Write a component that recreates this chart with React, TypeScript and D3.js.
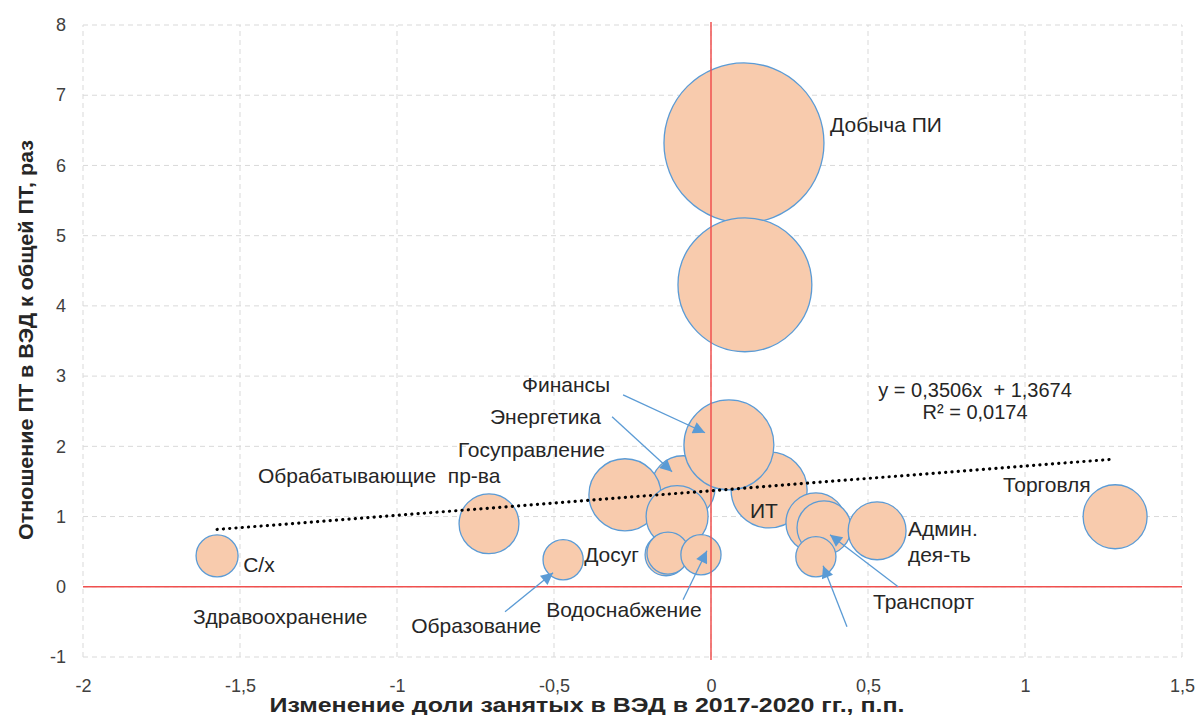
import React, { useRef, useEffect } from "react";
import * as d3 from "d3";

// bubbles, in draw order (x: change of share, p.p.; y: productivity ratio; size: bubble value)
const bubbleNames = [
  "Добыча ПИ", "", "ИТ", "Энергетика", "Госуправление", "", "Финансы",
  "Досуг", "", "Водоснабжение", "Образование", "С/х", "Обрабатывающие пр-ва",
  "", "", "Транспорт", "Админ. дея-ть", "Торговля",
];
const bubbleX = [
  0.105, 0.108, 0.185, -0.089, -0.274, -0.108, 0.057,
  -0.143, -0.137, -0.032, -0.471, -1.573, -0.707,
  0.334, 0.36, 0.334, 0.529, 1.287,
];
const bubbleY = [
  6.32, 4.3, 1.38, 1.41, 1.31, 1.0, 2.02,
  0.456, 0.48, 0.456, 0.385, 0.441, 0.897,
  0.911, 0.84, 0.427, 0.797, 0.997,
];
const bubbleSize = [
  100, 70, 22.6, 16, 20.3, 15, 31.6,
  6.9, 6.9, 6.3, 6.3, 6.9, 14,
  14, 11.4, 6.3, 13.1, 16,
];

// trend line y = 0,3506x + 1,3674
const trendX = [-1.573, 1.287];
const trendY = [0.816, 1.819];
const trendText = ["y = 0,3506x  + 1,3674", "R² = 0,0174"];
const trendTextX = [0.841, 0.841];
const trendTextY = [2.706, 2.392];

// text labels (start anchor, baseline)
const labelTexts = [
  "Добыча ПИ", "Финансы", "Энергетика", "Госуправление", "Обрабатывающие  пр-ва",
  "С/х", "Здравоохранение", "Образование", "Водоснабжение", "Досуг", "ИТ",
  "Торговля", "Админ.", "дея-ть", "Транспорт",
];
const labelX = [
  0.379, -0.602, -0.704, -0.806, -1.443,
  -1.49, -1.65, -0.955, -0.525, -0.404, 0.124,
  0.93, 0.627, 0.627, 0.516,
];
const labelY = [
  6.48, 2.777, 2.321, 1.851, 1.481,
  0.214, -0.527, -0.655, -0.427, 0.356, 0.983,
  1.353, 0.726, 0.356, -0.313,
];

// callout arrows
const arrowX1 = [-0.28, -0.315, -0.656, -0.089, 0.596, 0.433];
const arrowY1 = [2.734, 2.421, -0.356, -0.185, 0.0, -0.57];
const arrowX2 = [-0.019, -0.124, -0.503, -0.013, 0.379, 0.357];
const arrowY2 = [2.193, 1.638, 0.199, 0.513, 0.74, 0.299];

const xTicks = [-2, -1.5, -1, -0.5, 0, 0.5, 1, 1.5];
const yTicks = [-1, 0, 1, 2, 3, 4, 5, 6, 7, 8];

const xTitle = "Изменение доли занятых в ВЭД в 2017-2020  гг., п.п.";
const yTitle = "Отношение ПТ в ВЭД к общей ПТ, раз";

const FONT = "'Liberation Sans', Arial, sans-serif";

const App = () => {
  const svgRef = useRef<SVGSVGElement>(null);

  useEffect(() => {
    const width = 1199;
    const height = 715;
    const svg = d3.select(svgRef.current).attr("width", width).attr("height", height);
    svg.selectAll("*").remove();

    const x = d3.scaleLinear().domain([-2, 1.5]).range([83, 1182]);
    const y = d3.scaleLinear().domain([-1, 8]).range([657, 25]);
    const r = d3.scaleSqrt().domain([0, d3.max(bubbleSize)]).range([0, 80]);
    const fmt = (d) => String(d).replace(".", ",");

    const blue = "#5B9BD5";

    svg.append("defs")
      .append("marker")
      .attr("id", "head")
      .attr("viewBox", "0 0 10 10")
      .attr("refX", 10)
      .attr("refY", 5)
      .attr("markerWidth", 14)
      .attr("markerHeight", 12)
      .attr("markerUnits", "userSpaceOnUse")
      .attr("orient", "auto")
      .append("path")
      .attr("d", "M0,0 L10,5 L0,10 Z")
      .attr("fill", blue);

    // grid
    const grid = svg.append("g").attr("stroke", "#D9D9D9").attr("stroke-dasharray", "5,4");
    grid.selectAll("line.h").data(yTicks).join("line")
      .attr("x1", x(-2)).attr("x2", x(1.5))
      .attr("y1", (d) => y(d)).attr("y2", (d) => y(d));
    grid.selectAll("line.v").data(xTicks).join("line")
      .attr("class", "v")
      .attr("y1", y(-1)).attr("y2", y(8))
      .attr("x1", (d) => x(d)).attr("x2", (d) => x(d));

    // tick labels
    const yAxis = svg.append("g")
      .attr("transform", `translate(${x(-2) - 14},0)`)
      .call(d3.axisLeft(y).tickValues(yTicks).tickSize(0).tickFormat(fmt));
    yAxis.select(".domain").remove();
    yAxis.selectAll("text").attr("font-size", 18).attr("font-family", FONT).attr("fill", "#404040");

    const xAxis = svg.append("g")
      .attr("transform", `translate(0,${y(-1) + 19})`)
      .call(d3.axisBottom(x).tickValues(xTicks).tickSize(0).tickFormat(fmt));
    xAxis.select(".domain").remove();
    xAxis.selectAll("text").attr("font-size", 18).attr("font-family", FONT).attr("fill", "#404040");

    // axis titles
    svg.append("text")
      .attr("x", 587).attr("y", 712)
      .attr("text-anchor", "middle")
      .attr("font-family", FONT).attr("font-weight", "bold").attr("font-size", 20)
      .attr("textLength", 635).attr("lengthAdjust", "spacingAndGlyphs")
      .attr("fill", "#262626")
      .text(xTitle);
    svg.append("text")
      .attr("transform", `translate(33,340) rotate(-90)`)
      .attr("text-anchor", "middle")
      .attr("font-family", FONT).attr("font-weight", "bold").attr("font-size", 20)
      .attr("textLength", 400).attr("lengthAdjust", "spacingAndGlyphs")
      .attr("fill", "#262626")
      .text(yTitle);

    // red zero lines
    svg.append("line")
      .attr("x1", x(-2)).attr("x2", x(1.5)).attr("y1", y(0)).attr("y2", y(0))
      .attr("stroke", "#F0504F").attr("stroke-width", 1.5);

    // bubbles
    const idx = d3.range(bubbleX.length);
    svg.append("g").selectAll("circle").data(idx).join("circle")
      .attr("cx", (i) => x(bubbleX[i]))
      .attr("cy", (i) => y(bubbleY[i]))
      .attr("r", (i) => r(bubbleSize[i]))
      .attr("fill", "#F8CBAD")
      .attr("stroke", blue)
      .attr("stroke-width", 1.3);

    svg.append("line")
      .attr("x1", x(0)).attr("x2", x(0)).attr("y1", y(8) - 3).attr("y2", y(-1) + 3)
      .attr("stroke", "#F0504F").attr("stroke-width", 1.5);

    // trend line
    const line = d3.line<number>().x((i) => x(trendX[i])).y((i) => y(trendY[i]));
    svg.append("path")
      .datum([0, 1])
      .attr("d", line)
      .attr("fill", "none")
      .attr("stroke", "#000")
      .attr("stroke-width", 3.2)
      .attr("stroke-linecap", "round")
      .attr("stroke-dasharray", "0.1,6.2");

    svg.append("g").selectAll("text").data(trendText).join("text")
      .attr("x", (d, i) => x(trendTextX[i]))
      .attr("y", (d, i) => y(trendTextY[i]))
      .attr("text-anchor", "middle")
      .attr("font-family", FONT).attr("font-size", 20).attr("fill", "#262626")
      .style("white-space", "pre")
      .text((d) => d);

    // labels
    svg.append("g").selectAll("text").data(labelTexts).join("text")
      .attr("x", (d, i) => x(labelX[i]))
      .attr("y", (d, i) => y(labelY[i]))
      .attr("font-family", FONT).attr("font-size", 21).attr("fill", "#262626")
      .style("white-space", "pre")
      .text((d) => d);

    // arrows
    svg.append("g").selectAll("line").data(arrowX1).join("line")
      .attr("x1", (d, i) => x(arrowX1[i]))
      .attr("y1", (d, i) => y(arrowY1[i]))
      .attr("x2", (d, i) => x(arrowX2[i]))
      .attr("y2", (d, i) => y(arrowY2[i]))
      .attr("stroke", blue)
      .attr("stroke-width", 1.3)
      .attr("marker-end", "url(#head)");
  }, []);

  return (
    <svg ref={svgRef} style={{ position: "absolute", left: 0, top: 0, display: "block", background: "#fff" }} />
  );
};

export default App;
